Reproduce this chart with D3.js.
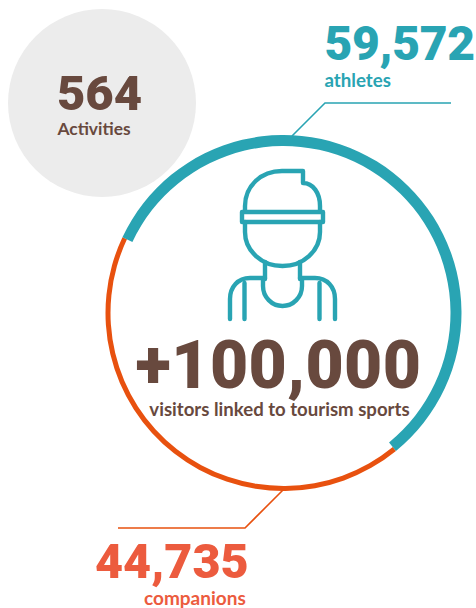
<!DOCTYPE html>
<html>
<head>
<meta charset="utf-8">
<script src="https://cdn.jsdelivr.net/npm/d3@7"></script>
<style>
html,body{margin:0;padding:0;background:#fff;}
svg{display:block;}
text{font-family:Lato,sans-serif;}
text.num{font-family:Roboto,sans-serif;}
</style>
</head>
<body>
<svg id="c" width="476" height="608"></svg>
<script>
const categories = ["athletes", "companions"];
const values = [59572, 44735];
const valueLabels = ["59,572", "44,735"];
const colors = ["#29a4b3", "#e8510f"];
const textColors = ["#29a4b3", "#ec5b3e"];
const totalLabel = "+100,000";
const totalCaption = "visitors linked to tourism sports";
const activities = 564;
const activitiesLabel = "Activities";

const brown = "#68493e";
const svg = d3.select("#c");

// Activities bubble
svg.append("circle").attr("cx",102).attr("cy",103).attr("r",94).attr("fill","#ececec");
svg.append("text").attr("class","num").attr("x",99.5).attr("y",110).attr("text-anchor","middle")
  .attr("font-size",49).attr("font-weight",900).attr("fill",brown).text(activities);
svg.append("text").attr("x",94).attr("y",135).attr("text-anchor","middle")
  .attr("font-size",17.4).attr("font-weight",700).attr("fill",brown).text(activitiesLabel);

// Ring
const cx = 283.5, cy = 313, R = 178;
const start = -64.8 * Math.PI / 180;
const pie = d3.pie().sort(null).startAngle(start).endAngle(start + 2*Math.PI);
const widths = [11, 5];
const ring = svg.append("g").attr("transform",`translate(${cx},${cy})`);
const slices = pie(values);
const order = [1, 0];
order.forEach(i => {
  ring.append("path")
    .attr("d", d3.arc().innerRadius(R - widths[i]).outerRadius(R)(slices[i]))
    .attr("fill", colors[i]);
});

// Leaders
const line = d3.line();
svg.append("path").attr("d", line([[292,136],[325,103],[451,103]]))
  .attr("fill","none").attr("stroke",colors[0]).attr("stroke-width",1.6);
svg.append("path").attr("d", line([[283,490],[245,528],[118,528]]))
  .attr("fill","none").attr("stroke",colors[1]).attr("stroke-width",1.6);

// Series labels
svg.append("text").attr("class","num").attr("x",324.5).attr("y",60).attr("font-size",48).attr("letter-spacing",-0.3).attr("font-weight",900)
  .attr("fill",textColors[0]).text(valueLabels[0]);
svg.append("text").attr("x",324.5).attr("y",87).attr("font-size",18.7).attr("font-weight",700)
  .attr("fill",textColors[0]).text(categories[0]);
svg.append("text").attr("class","num").attr("x",95).attr("y",578).attr("font-size",48.5).attr("font-weight",900)
  .attr("fill",textColors[1]).text(valueLabels[1]);
svg.append("text").attr("x",144).attr("y",605).attr("font-size",19).attr("font-weight",700)
  .attr("fill",textColors[1]).text(categories[1]);

// Centre text
svg.append("text").attr("class","num").attr("x",278.5).attr("y",388).attr("text-anchor","middle")
  .attr("font-size",66).attr("letter-spacing",0.4).attr("font-weight",900).attr("fill",brown).text(totalLabel);
svg.append("text").attr("x",279.5).attr("y",416).attr("text-anchor","middle")
  .attr("font-size",18.6).attr("font-weight",700).attr("fill",brown).text(totalCaption);

// Athlete icon
const icon = svg.append("g").attr("fill","none").attr("stroke",colors[0])
  .attr("stroke-width",4.4).attr("stroke-linecap","round").attr("stroke-linejoin","round");
[
 "M245,211 V206 C245,186 261,171 282,171 H303 V183 C313,183 320,193 320,206 V211",
 "M242,212 H323 V222 H242 Z",
 "M245,222 V232 A37.5,34 0 0 0 320,232 V222",
 "M265,262 V279 M300,262 V279",
 "M265,278 H250 C238,278 230,287 230,299 V319",
 "M300,278 H315 C327,278 335,287 335,299 V319",
 "M263,279 V286 A19.5,20 0 0 0 302,286 V279",
 "M244.5,283 V319 M319.5,283 V319"
].forEach(d => icon.append("path").attr("d",d));
</script>
</body>
</html>
